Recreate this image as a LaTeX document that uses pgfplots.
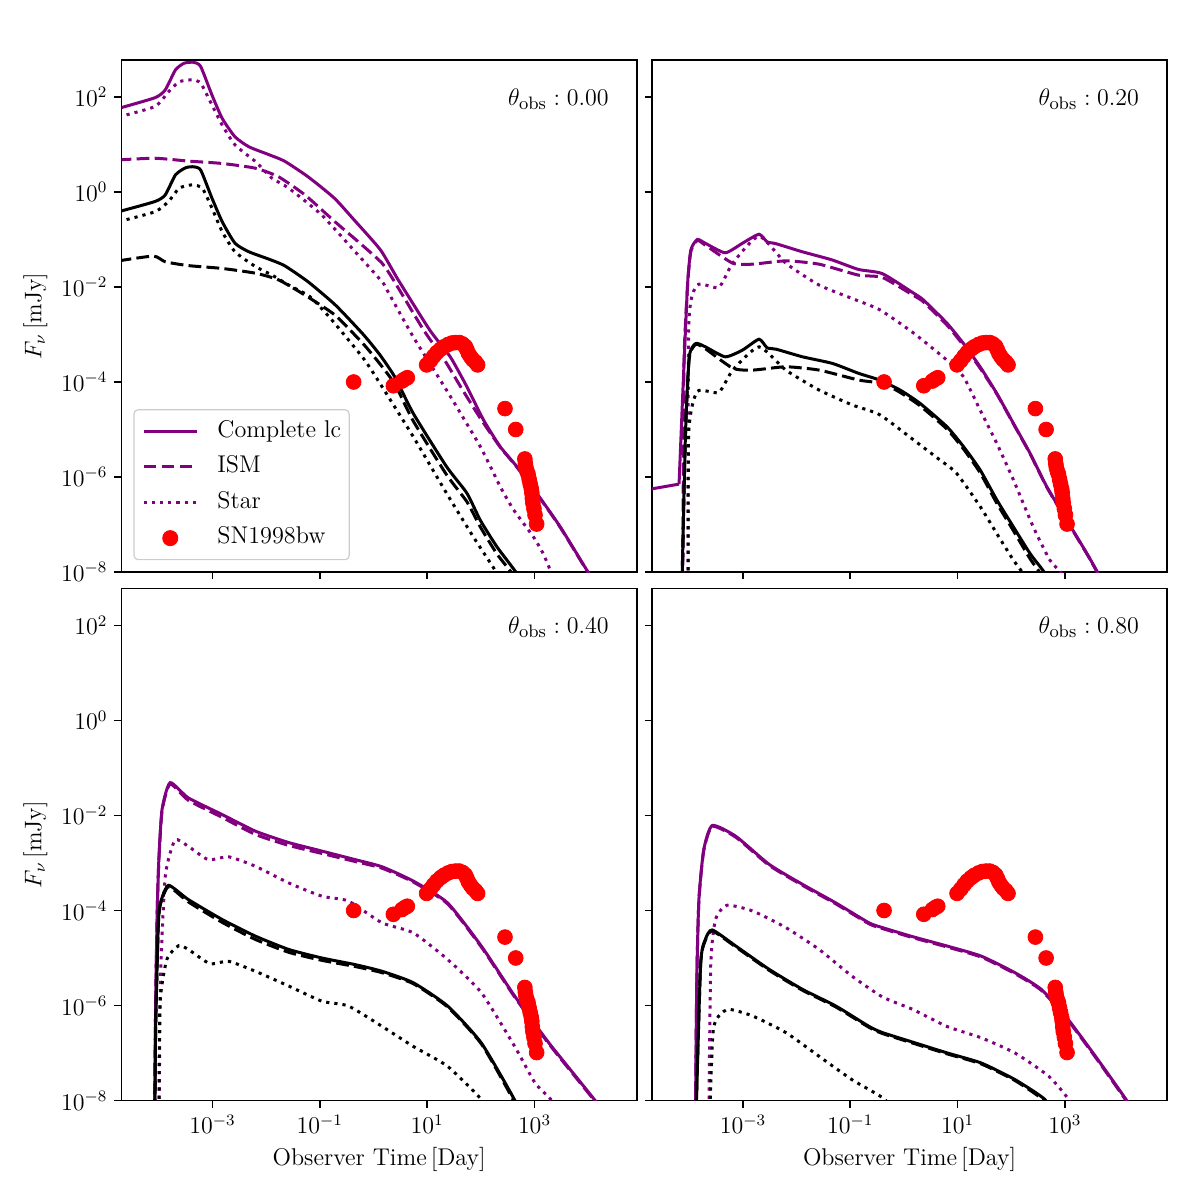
\documentclass[border=0pt]{standalone}
\usepackage{pgfplots}
\usepackage{pgfplotstable}
\pgfplotsset{compat=1.18}

\definecolor{mplpurple}{HTML}{800080}
\newcommand\fs{\fontsize{12.1pt}{14.5pt}\selectfont}
\newcommand\fsth{\fontsize{12.6pt}{15pt}\selectfont}

% All tables hold log10(time/day) and log10(flux/mJy);
% the axes are decades, labelled as powers of ten.
% ---------- theta_obs = 0.00 ----------
\pgfplotstableread{
lx ly
-4.75 1.76
-4.07 1.985
-3.88 2.15
-3.69 2.57
-3.53 2.71
-3.35 2.73
-3.22 2.64
-3.01 2.04
-2.82 1.55
-2.58 1.16
-2.32 0.95
-1.96 0.79
-1.66 0.65
-1.22 0.32
-0.73 -0.13
-0.36 -0.59
0.13 -1.22
0.46 -1.85
1.05 -2.91
1.43 -3.47
1.74 -4.10
2.05 -4.80
2.36 -5.36
2.67 -5.78
3.04 -6.34
3.48 -7.05
4.03 -8.06
4.20 -8.30
}\TLps
\pgfplotstableread{
lx ly
-4.75 0.675
-4.07 0.71
-3.45 0.65
-2.82 0.60
-2.20 0.50
-1.77 0.32
-1.28 -0.06
-0.72 -0.625
-0.21 -1.12
0.16 -1.50
0.37 -1.85
0.93 -2.90
1.33 -3.55
1.65 -4.15
2.00 -4.78
2.36 -5.37
2.67 -5.79
3.04 -6.35
3.48 -7.06
4.03 -8.07
4.20 -8.30
}\TLpd
\pgfplotstableread{
lx ly
-4.75 1.58
-4.07 1.80
-3.82 2.11
-3.62 2.32
-3.38 2.36
-3.22 2.29
-3.01 1.83
-2.82 1.41
-2.58 0.99
-2.20 0.64
-1.89 0.29
-1.58 0.08
-0.97 -0.48
-0.34 -1.26
0.16 -1.89
0.25 -2.06
0.74 -3.05
1.36 -4.17
1.99 -5.36
2.36 -6.20
2.61 -6.69
2.98 -7.26
3.16 -7.61
3.29 -7.96
3.35 -8.30
}\TLpt
\pgfplotstableread{
lx ly
-4.75 -0.415
-4.07 -0.20
-3.88 -0.06
-3.69 0.36
-3.50 0.51
-3.35 0.53
-3.22 0.46
-3.01 -0.13
-2.82 -0.625
-2.58 -1.08
-2.32 -1.26
-1.96 -1.41
-1.66 -1.55
-1.22 -1.89
-0.71 -2.38
-0.19 -3.00
0.12 -3.43
0.40 -3.90
0.74 -4.66
1.36 -5.78
1.74 -6.34
1.99 -6.91
2.30 -7.47
2.67 -8.03
2.75 -8.30
}\TLks
\pgfplotstableread{
lx ly
-4.75 -1.45
-4.10 -1.35
-3.88 -1.47
-3.45 -1.55
-2.82 -1.61
-2.20 -1.71
-1.77 -1.85
-1.28 -2.17
-0.72 -2.59
-0.19 -3.20
0.12 -3.62
0.40 -4.05
0.74 -4.82
1.36 -5.95
1.74 -6.52
1.99 -7.05
2.30 -7.62
2.58 -8.03
2.65 -8.30
}\TLkd
\pgfplotstableread{
lx ly
-4.75 -0.625
-4.07 -0.415
-3.82 -0.20
-3.62 0.08
-3.38 0.15
-3.19 0.08
-3.01 -0.34
-2.82 -0.835
-2.58 -1.26
-2.20 -1.57
-1.89 -1.75
-1.58 -1.96
-1.19 -2.20
-0.81 -2.65
-0.19 -3.50
0.12 -4.03
0.74 -5.15
1.36 -6.34
1.86 -7.26
2.30 -8.03
2.35 -8.30
}\TLkt
% ---------- theta_obs = 0.20 ----------
% flat early part of the complete light curve
\pgfplotstableread{
lx ly
-4.75 -6.26
-4.19 -6.15
}\TRpsflat
\pgfplotstableread{
lx ly
-4.19 -6.15
-4.10 -3.68
-4.03 -1.92
-3.97 -1.22
-3.85 -1.00
-3.70 -1.08
-3.33 -1.28
-3.01 -1.08
-2.70 -0.89
-2.55 -1.05
-2.38 -1.09
-1.89 -1.26
-1.34 -1.43
-0.85 -1.63
-0.40 -1.72
0.18 -2.13
0.36 -2.27
0.80 -2.76
1.11 -3.19
1.42 -3.68
1.73 -4.24
2.04 -4.87
2.35 -5.50
2.66 -6.20
3.03 -6.90
3.41 -7.61
3.62 -8.03
3.75 -8.30
}\TRps
\pgfplotstableread{
lx ly
-4.12 -9.00
-4.10 -3.72
-4.03 -1.95
-3.97 -1.25
-3.85 -1.02
-3.70 -1.12
-3.19 -1.50
-2.82 -1.52
-2.20 -1.45
-1.58 -1.52
-0.85 -1.75
-0.40 -1.80
0.18 -2.18
0.36 -2.31
0.80 -2.80
1.11 -3.23
1.42 -3.71
1.73 -4.25
2.04 -4.88
2.35 -5.51
2.66 -6.21
3.03 -6.91
3.41 -7.62
3.62 -8.04
3.75 -8.30
}\TRpd
\pgfplotstableread{
lx ly
-4.02 -9.00
-4.01 -2.84
-3.85 -1.96
-3.45 -2.01
-3.19 -1.50
-2.70 -0.93
-2.20 -1.50
-1.58 -1.96
-0.97 -2.24
-0.45 -2.48
0.18 -2.97
0.80 -3.54
1.11 -3.89
1.42 -4.59
1.73 -5.29
2.04 -6.06
2.41 -7.05
2.72 -7.75
2.94 -8.03
3.00 -8.30
}\TRpt
\pgfplotstableread{
lx ly
-4.15 -9.00
-4.07 -5.08
-4.00 -3.47
-3.88 -3.19
-3.70 -3.26
-3.33 -3.47
-3.01 -3.33
-2.70 -3.10
-2.55 -3.28
-2.38 -3.31
-1.89 -3.47
-1.33 -3.61
-0.84 -3.82
-0.45 -3.96
-0.07 -4.17
0.30 -4.45
0.80 -4.94
1.11 -5.36
1.42 -5.85
1.73 -6.48
2.04 -7.05
2.35 -7.61
2.63 -8.03
2.70 -8.30
}\TRks
\pgfplotstableread{
lx ly
-4.15 -9.00
-4.07 -5.10
-4.00 -3.50
-3.88 -3.21
-3.70 -3.30
-3.19 -3.71
-2.82 -3.75
-2.20 -3.68
-1.58 -3.75
-0.84 -3.96
-0.40 -4.03
-0.07 -4.22
0.30 -4.50
0.80 -4.99
1.11 -5.41
1.42 -5.91
1.73 -6.55
2.04 -7.13
2.35 -7.72
2.54 -8.03
2.60 -8.30
}\TRkd
\pgfplotstableread{
lx ly
-4.02 -9.00
-4.01 -5.08
-3.85 -4.20
-3.45 -4.22
-3.19 -3.75
-2.70 -3.26
-2.20 -3.75
-1.58 -4.17
-0.97 -4.48
-0.45 -4.69
0.18 -5.22
0.67 -5.64
0.98 -5.92
1.42 -6.62
1.73 -7.19
2.04 -7.75
2.22 -8.03
2.30 -8.30
}\TRkt
% ---------- theta_obs = 0.40 ----------
\pgfplotstableread{
lx ly
-4.08 -9.00
-4.06 -6.00
-4.03 -4.00
-4.00 -2.93
-3.94 -1.87
-3.79 -1.31
-3.45 -1.63
-2.82 -1.98
-2.20 -2.33
-1.58 -2.57
-0.96 -2.75
-0.34 -2.93
0.16 -3.08
0.74 -3.38
1.38 -3.84
2.01 -4.75
2.63 -5.80
3.27 -6.79
4.13 -8.00
4.30 -8.30
}\BLps
\pgfplotstableread{
lx ly
-4.08 -9.00
-4.06 -6.00
-4.03 -4.02
-4.00 -2.96
-3.94 -1.90
-3.79 -1.34
-3.45 -1.68
-2.82 -2.04
-2.20 -2.40
-1.58 -2.63
-0.96 -2.80
-0.34 -2.97
0.16 -3.11
0.74 -3.40
1.38 -3.86
2.01 -4.77
2.63 -5.82
3.27 -6.81
4.13 -8.02
4.30 -8.30
}\BLpd
\pgfplotstableread{
lx ly
-4.00 -9.00
-3.97 -5.50
-3.88 -3.28
-3.70 -2.52
-3.45 -2.65
-3.08 -2.93
-2.70 -2.87
-2.20 -3.07
-1.58 -3.42
-0.96 -3.70
-0.47 -3.80
0.16 -4.26
0.74 -4.47
1.38 -5.03
2.01 -5.73
2.63 -6.86
3.01 -7.63
3.32 -8.00
3.40 -8.30
}\BLpt
\pgfplotstableread{
lx ly
-4.08 -9.00
-4.06 -6.50
-4.01 -4.30
-3.97 -3.84
-3.82 -3.47
-3.45 -3.77
-2.82 -4.19
-2.20 -4.54
-1.58 -4.82
-0.96 -5.00
-0.34 -5.14
0.16 -5.28
0.74 -5.52
1.38 -6.01
2.01 -6.79
2.63 -7.99
2.70 -8.30
}\BLks
\pgfplotstableread{
lx ly
-4.08 -9.00
-4.06 -6.50
-4.01 -4.32
-3.97 -3.87
-3.82 -3.50
-3.45 -3.82
-2.82 -4.25
-2.20 -4.61
-1.58 -4.88
-0.96 -5.05
-0.34 -5.18
0.16 -5.31
0.74 -5.54
1.38 -6.03
2.01 -6.81
2.61 -8.00
2.68 -8.30
}\BLkd
\pgfplotstableread{
lx ly
-4.00 -9.00
-3.98 -6.00
-3.85 -5.03
-3.63 -4.74
-3.45 -4.82
-3.05 -5.12
-2.70 -5.07
-2.20 -5.28
-1.58 -5.59
-0.96 -5.91
-0.47 -6.01
0.16 -6.44
0.74 -6.86
1.38 -7.28
2.01 -7.98
2.10 -8.30
}\BLkt
% ---------- theta_obs = 0.80 ----------
\pgfplotstableread{
lx ly
-3.89 -9.00
-3.86 -5.50
-3.82 -3.77
-3.73 -2.72
-3.57 -2.21
-3.13 -2.44
-2.51 -3.03
-1.89 -3.45
-1.27 -3.84
-0.65 -4.26
-0.40 -4.36
0.16 -4.55
0.81 -4.75
1.44 -4.96
2.07 -5.31
2.56 -5.66
3.01 -6.22
3.57 -7.07
4.14 -7.98
4.30 -8.30
}\BRps
\pgfplotstableread{
lx ly
-3.89 -9.00
-3.86 -5.52
-3.82 -3.79
-3.73 -2.74
-3.57 -2.23
-3.13 -2.46
-2.51 -3.05
-1.89 -3.47
-1.27 -3.86
-0.65 -4.28
-0.40 -4.38
0.16 -4.57
0.81 -4.77
1.44 -4.98
2.07 -5.33
2.56 -5.68
3.01 -6.24
3.57 -7.09
4.14 -8.00
4.30 -8.30
}\BRpd
\pgfplotstableread{
lx ly
-3.64 -9.00
-3.60 -5.17
-3.51 -4.19
-3.30 -3.89
-2.82 -4.01
-2.20 -4.36
-1.58 -4.82
-0.97 -5.38
-0.40 -5.82
0.16 -6.08
0.80 -6.44
1.44 -6.68
2.07 -7.00
2.70 -7.49
3.07 -7.98
3.15 -8.30
}\BRpt
\pgfplotstableread{
lx ly
-3.89 -9.00
-3.79 -5.17
-3.70 -4.61
-3.57 -4.41
-3.13 -4.75
-2.51 -5.24
-1.89 -5.66
-1.27 -6.01
-0.65 -6.44
-0.40 -6.57
0.16 -6.77
0.81 -7.00
1.44 -7.21
2.07 -7.56
2.63 -7.98
2.70 -8.30
}\BRks
\pgfplotstableread{
lx ly
-3.89 -9.00
-3.79 -5.19
-3.70 -4.63
-3.57 -4.43
-3.13 -4.77
-2.51 -5.26
-1.89 -5.68
-1.27 -6.03
-0.65 -6.46
-0.40 -6.59
0.16 -6.79
0.81 -7.02
1.44 -7.23
2.07 -7.58
2.61 -8.00
2.68 -8.30
}\BRkd
\pgfplotstableread{
lx ly
-3.64 -9.00
-3.56 -6.60
-3.45 -6.22
-3.26 -6.08
-2.82 -6.22
-2.20 -6.57
-1.58 -7.07
-0.97 -7.56
-0.35 -7.98
-0.28 -8.30
}\BRkt
% ---------- SN1998bw radio data ----------
\pgfplotstableread{
lx ly
-0.37 -4.00
0.37 -4.08
0.53 -3.98
0.58 -3.94
0.63 -3.91
0.99 -3.64
1.06 -3.55
1.12 -3.46
1.18 -3.38
1.25 -3.31
1.31 -3.26
1.39 -3.21
1.46 -3.18
1.53 -3.17
1.60 -3.17
1.66 -3.20
1.71 -3.25
1.74 -3.32
1.77 -3.40
1.81 -3.47
1.85 -3.53
1.90 -3.58
1.94 -3.64
2.45 -4.56
2.65 -5.00
2.82 -5.62
2.83 -5.72
2.84 -5.80
2.86 -5.88
2.88 -5.94
2.90 -6.05
2.92 -6.15
2.94 -6.25
2.95 -6.33
2.96 -6.45
2.97 -6.55
2.99 -6.67
3.01 -6.80
3.04 -6.99
}\SNdata

\pgfplotsset{
  lc panel/.style={
    scale only axis, width=257.6pt, height=256pt,
    xmin=-4.694, xmax=4.906, ymin=-8, ymax=2.778,
    xtick={-3,-1,1,3},
    ytick={-8,-6,-4,-2,0,2},
    tick pos=left, tick align=outside,
    major tick length=3.6pt,
    every tick/.style={black, line width=0.8pt},
    axis line style={line width=0.8pt},
    tick label style={font=\fs},
    label style={font=\fs},
    legend image code/.code={\draw[##1] (0pt,0pt) -- (26.7pt,0pt);},
  },
  xdec/.style={xticklabels={$10^{-3}$,$10^{-1}$,$10^{1}$,$10^{3}$}},
  ydec/.style={yticklabels={$10^{-8}$,$10^{-6}$,$10^{-4}$,$10^{-2}$,$10^{0}$,$10^{2}$}},
}
\pgfplotsset{
  curve/.style={line width=1.5pt, smooth, tension=0.35},
  complete/.style={curve, mplpurple},
  ism/.style={curve, mplpurple, dash pattern=on 6.4pt off 2.6pt},
  star/.style={curve, mplpurple, dash pattern=on 1.6pt off 2.5pt},
  kcomplete/.style={curve, black},
  kism/.style={curve, black, dash pattern=on 6.4pt off 2.6pt},
  kstar/.style={curve, black, dash pattern=on 1.6pt off 2.5pt},
  sn/.style={only marks, mark=*, mark size=3.7pt,
    mark options={fill=red, draw=red, fill opacity=1, draw opacity=1},
    legend image code/.code={\draw[mark repeat=2, mark phase=2, ##1]
      plot coordinates {(0pt,0pt) (13.35pt,0pt) (26.7pt,0pt)};}},
}

\newcommand\thlabel[1]{\node[anchor=north east, inner sep=0pt, font=\fsth]
  at (rel axis cs:0.946,0.945) {$\theta_{\mathrm{obs}} : #1$};}

\begin{document}
\begin{tikzpicture}
\path[use as bounding box] (0pt,0pt) rectangle (600pt,-600pt);

% top left: theta_obs = 0.00
\begin{axis}[lc panel, ydec, at={(60.8pt,-30pt)}, anchor=north west,
  xticklabels={},
  ylabel={$F_\nu\,[\mathrm{mJy}]$},
  legend cell align=left,
  legend style={at={(0.023,0.023)}, anchor=south west, font=\fs,
    draw=black!20, line width=0.6pt, fill=white, fill opacity=0.8,
    text opacity=1, draw opacity=1, rounded corners=2pt,
    inner xsep=4pt, inner ysep=5pt, row sep=6.3pt, column sep=9.5pt,
    nodes={inner sep=0pt, text height=8.6pt, text depth=2.9pt}}]
\addplot[complete] table[x=lx, y=ly] {\TLps}; \addlegendentry{Complete lc}
\addplot[ism] table[x=lx, y=ly] {\TLpd}; \addlegendentry{ISM}
\addplot[star] table[x=lx, y=ly] {\TLpt}; \addlegendentry{Star}
\addplot[kcomplete, forget plot] table[x=lx, y=ly] {\TLks};
\addplot[kism, forget plot] table[x=lx, y=ly] {\TLkd};
\addplot[kstar, forget plot] table[x=lx, y=ly] {\TLkt};
\addplot[sn] table[x=lx, y=ly] {\SNdata}; \addlegendentry{SN1998bw}
\thlabel{0.00}
\end{axis}

% top right: theta_obs = 0.20
\begin{axis}[lc panel, at={(326pt,-30pt)}, anchor=north west,
  xticklabels={}, yticklabels={}]
\addplot[mplpurple, line width=1.5pt] table[x=lx, y=ly] {\TRpsflat};
\addplot[complete] table[x=lx, y=ly] {\TRps};
\addplot[ism] table[x=lx, y=ly] {\TRpd};
\addplot[star] table[x=lx, y=ly] {\TRpt};
\addplot[kcomplete] table[x=lx, y=ly] {\TRks};
\addplot[kism] table[x=lx, y=ly] {\TRkd};
\addplot[kstar] table[x=lx, y=ly] {\TRkt};
\addplot[sn] table[x=lx, y=ly] {\SNdata};
\thlabel{0.20}
\end{axis}

% bottom left: theta_obs = 0.40
\begin{axis}[lc panel, xdec, ydec, at={(60.8pt,-294.25pt)}, anchor=north west,
  xlabel={Observer Time$\,$[Day]},
  ylabel={$F_\nu\,[\mathrm{mJy}]$}]
\addplot[complete] table[x=lx, y=ly] {\BLps};
\addplot[ism] table[x=lx, y=ly] {\BLpd};
\addplot[star] table[x=lx, y=ly] {\BLpt};
\addplot[kcomplete] table[x=lx, y=ly] {\BLks};
\addplot[kism] table[x=lx, y=ly] {\BLkd};
\addplot[kstar] table[x=lx, y=ly] {\BLkt};
\addplot[sn] table[x=lx, y=ly] {\SNdata};
\thlabel{0.40}
\end{axis}

% bottom right: theta_obs = 0.80
\begin{axis}[lc panel, xdec, at={(326pt,-294.25pt)}, anchor=north west,
  yticklabels={},
  xlabel={Observer Time$\,$[Day]}]
\addplot[complete] table[x=lx, y=ly] {\BRps};
\addplot[ism] table[x=lx, y=ly] {\BRpd};
\addplot[star] table[x=lx, y=ly] {\BRpt};
\addplot[kcomplete] table[x=lx, y=ly] {\BRks};
\addplot[kism] table[x=lx, y=ly] {\BRkd};
\addplot[kstar] table[x=lx, y=ly] {\BRkt};
\addplot[sn] table[x=lx, y=ly] {\SNdata};
\thlabel{0.80}
\end{axis}
\end{tikzpicture}
\end{document}
